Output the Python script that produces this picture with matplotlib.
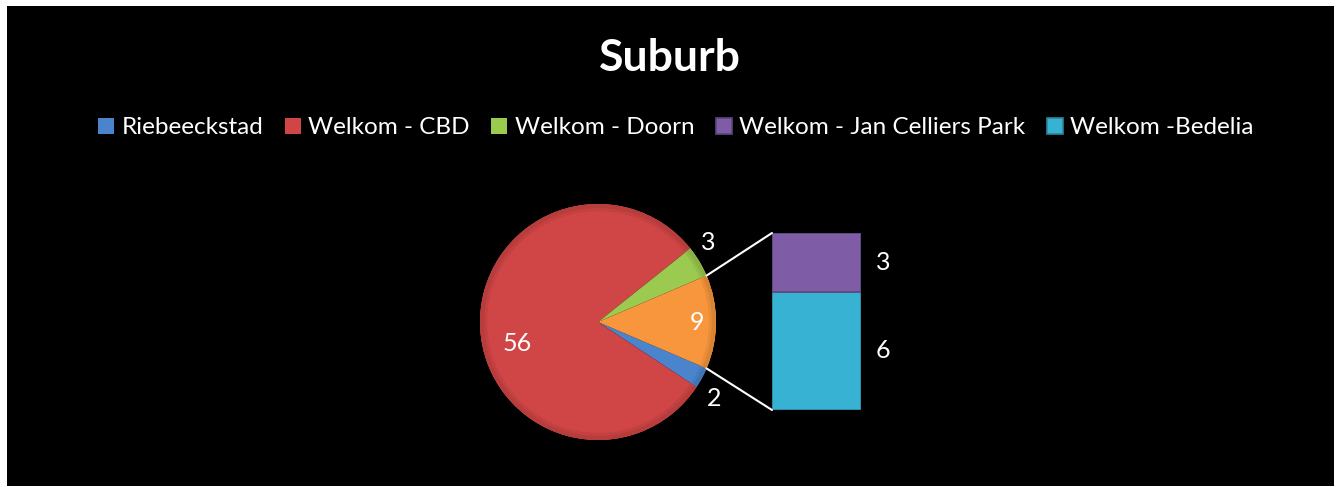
import numpy as np
import matplotlib
matplotlib.use("Agg")
import matplotlib.pyplot as plt
from matplotlib.patches import ConnectionPatch, Rectangle


title = "Suburb"

# pie part (clockwise from the blue slice); last slice is the "other" group
pie_names = ["Riebeeckstad", "Welkom - CBD", "Welkom - Doorn", "Other"]
pie_values = [2, 56, 3]

# bar part (bottom first)
bar_names = ["Welkom -Bedelia", "Welkom - Jan Celliers Park"]
bar_values = [6, 3]

legend_order = ["Riebeeckstad", "Welkom - CBD", "Welkom - Doorn",
                "Welkom - Jan Celliers Park", "Welkom -Bedelia"]

pie_colors = ["#4A84CC", "#D04545", "#9CC94F", "#F7963C"]
bar_colors = ["#38B2D2", "#7E5CA6"]

FONT = "Lato"
W, H = 1340, 487


def fx(px):
    return px / W


def fy(py):
    return 1 - py / H


fig = plt.figure(figsize=(W / 100, H / 100), dpi=100, facecolor="white")
fig.patches.append(Rectangle((fx(7), fy(486)), fx(1334) - fx(7), fy(6) - fy(486),
                             transform=fig.transFigure, facecolor="black",
                             edgecolor="none", zorder=-5))

fig.text(0.5, fy(58), title, color="white", fontsize=32, fontweight="bold",
         family=FONT, ha="center", va="center")

# pie
values = pie_values + [sum(bar_values)]
other_angle = 360 * values[-1] / sum(values)

ax_pie = fig.add_axes([fx(480), fy(440), fx(716) - fx(480), fy(204) - fy(440)])
wedges, _ = ax_pie.pie(values, colors=pie_colors, startangle=-other_angle / 2,
                       counterclock=False, radius=1,
                       wedgeprops=dict(edgecolor="none", linewidth=0))
ax_pie.set_xlim(-1, 1)
ax_pie.set_ylim(-1, 1)
ax_pie.axis("off")

# soft rim shading
for w, c in zip(wedges, pie_colors):
    rgb = np.array(matplotlib.colors.to_rgb(c))
    for k, (wd, f) in enumerate([(0.06, 0.94), (0.035, 0.88)]):
        ring = matplotlib.patches.Wedge((0, 0), 1, w.theta1, w.theta2, width=wd,
                                        facecolor=rgb * f, edgecolor="none")
        ax_pie.add_patch(ring)

label_r = [1.18, 0.71, 1.155, 0.84]
label_nudge = [-5, 12, 5, 0]
for w, v, r, n in zip(wedges, values, label_r, label_nudge):
    ang = np.deg2rad((w.theta1 + w.theta2) / 2 + n)
    ax_pie.text(r * np.cos(ang), r * np.sin(ang), str(v), color="white",
                fontsize=18, family=FONT, ha="center", va="center")

# bar
ax_bar = fig.add_axes([fx(772), fy(410), fx(861) - fx(772), fy(233) - fy(410)])
bottom = 0
bars = []
for name, v, c in zip(bar_names, bar_values, bar_colors):
    rgb = np.array(matplotlib.colors.to_rgb(c))
    b = ax_bar.bar(0, v, width=1, bottom=bottom, color=c,
                   edgecolor=rgb * 0.75, linewidth=1.2, label=name)
    bars.append(b[0])
    ax_bar.text(0.75, bottom + v / 2, str(v), color="white", fontsize=18,
                family=FONT, ha="center", va="center")
    bottom += v
ax_bar.set_xlim(-0.5, 0.5)
ax_bar.set_ylim(0, sum(bar_values))
ax_bar.axis("off")

# connecting lines
other = wedges[-1]
total = sum(bar_values)
for theta, ybar in [(other.theta2, total), (other.theta1, 0)]:
    t = np.deg2rad(theta)
    con = ConnectionPatch(xyA=(-0.5, ybar), coordsA=ax_bar.transData,
                          xyB=(np.cos(t), np.sin(t)), coordsB=ax_pie.transData,
                          color="white", linewidth=1.5)
    fig.add_artist(con)

# legend
handles = dict(zip(pie_names, wedges))
handles.update(dict(zip(bar_names, bars)))
leg = fig.legend([handles[n] for n in legend_order], legend_order,
                 loc="center", bbox_to_anchor=(fx(676), fy(128)), ncol=5,
                 frameon=False, handlelength=0.65, handleheight=0.65,
                 handletextpad=0.3, columnspacing=0.9,
                 prop=dict(family=FONT, size=17.5))
for t in leg.get_texts():
    t.set_color("white")

fig.savefig("out.png", dpi=100, facecolor=fig.get_facecolor())
